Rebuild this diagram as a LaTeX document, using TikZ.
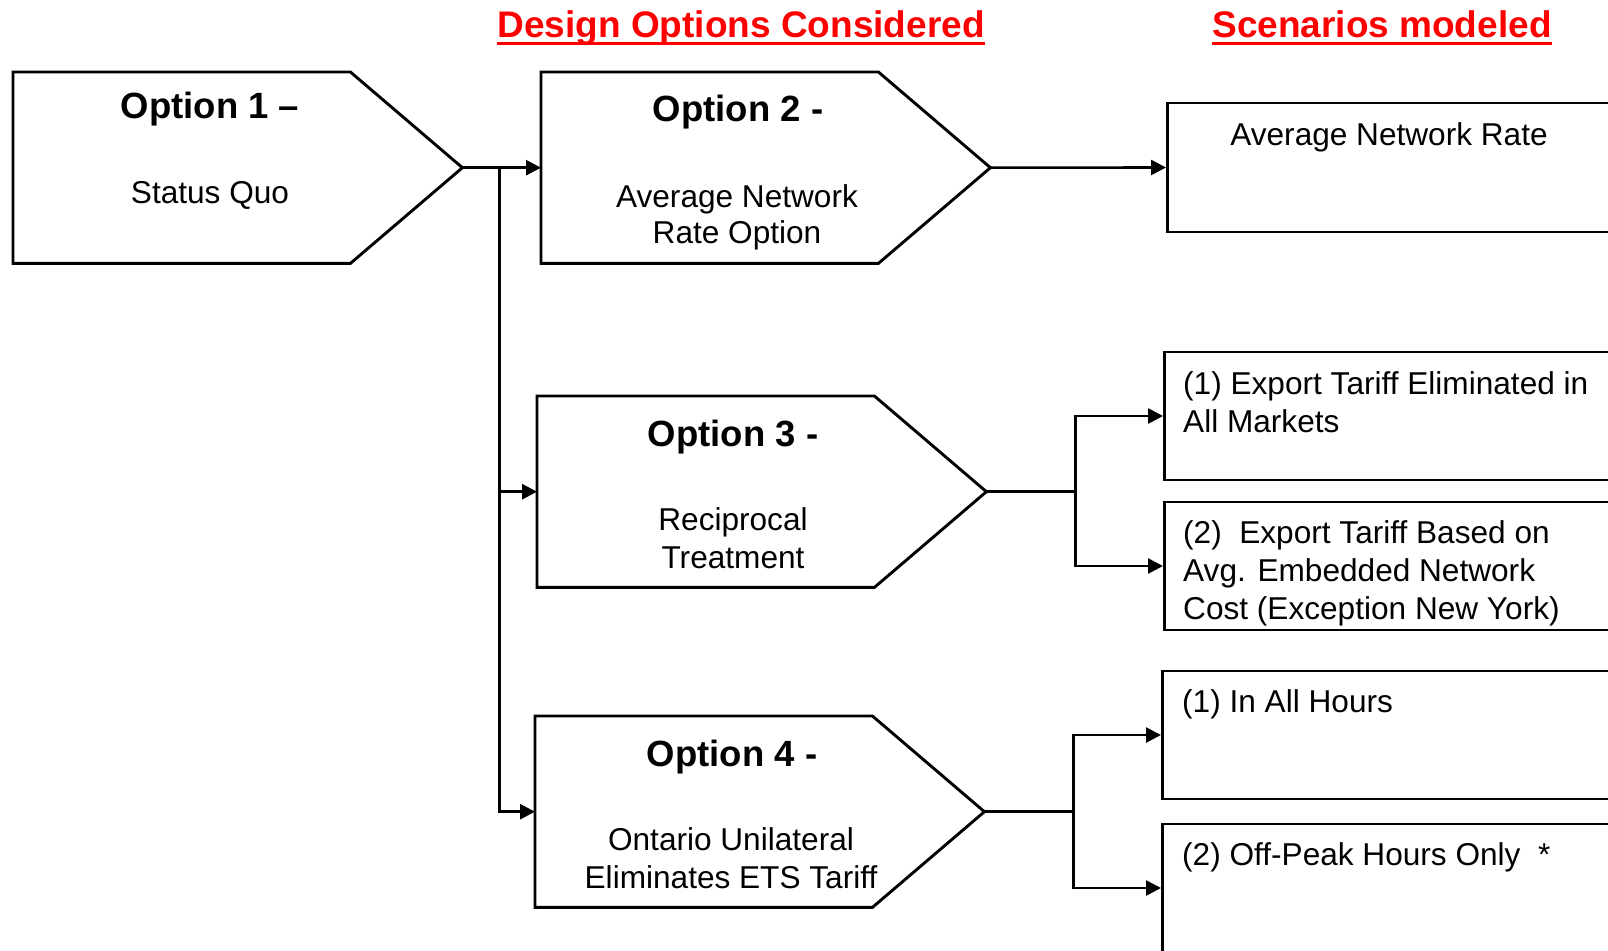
\documentclass[tikz,border=0pt]{standalone}
\usepackage{fontspec}
\setmainfont{Liberation Sans}
\usetikzlibrary{arrows.meta}
\newcommand\optoutline[1]{\draw[optline] (#1.north west) -- ([xshift=-112pt]#1.north east) -- (#1.east) -- ([xshift=-112pt]#1.south east) -- (#1.south west) -- cycle;}
\begin{document}
\begin{tikzpicture}[x=1pt,y=-1pt,
  optframe/.style={draw=none, inner sep=0pt, minimum width=449pt, minimum height=191pt, anchor=north west},
  optline/.style={draw=black, line width=2.9pt, fill=white, line join=miter},
  scenbox/.style={draw=black, line width=2.9pt, minimum width=520pt, minimum height=128pt, anchor=west, inner sep=0pt},
  conn/.style={line width=2.6pt},
  arr/.style={conn, -{Triangle[length=15pt,width=15pt]}},
  title/.style={font=\fontsize{36.5}{40}\selectfont\bfseries, anchor=base, inner sep=0pt},
  body/.style={font=\fontsize{31.6}{36}\selectfont, anchor=base, inner sep=0pt},
  bodyl/.style={body, anchor=base west},
  hdr/.style={font=\fontsize{37}{40}\selectfont\bfseries, text=red, anchor=base, inner sep=0pt},
  uline/.style={draw=red, line width=3.5pt}
]
\path[use as bounding box] (0,0) rectangle (1608,950);
\clip (0,0) rectangle (1608,950);

% headers
\node[hdr] (h1) at (741,37.5) {Design Options Considered};
\draw[uline] ([yshift=-6pt]h1.base west) -- ([yshift=-6pt]h1.base east);
\node[hdr] (h2) at (1382,37.5) {Scenarios modeled};
\draw[uline] ([yshift=-6pt]h2.base west) -- ([yshift=-6pt]h2.base east);

% option shapes
\node[optframe] (o1) at (13,72) {};
\optoutline{o1}
\node[optframe] (o2) at (541,72) {};
\optoutline{o2}
\node[optframe] (o3) at (537,396) {};
\optoutline{o3}
\node[optframe] (o4) at (535,716) {};
\optoutline{o4}

% option texts
\node[title] (o1t) at (210,118) {Option 1 –};
\node[body] (o1b) at (210,203) {Status Quo};
\node[title] (o2t) at (738,121) {Option 2 -};
\node[body] (o2b) at (737,207) {Average Network};
\node[body] (o2c) at (737,243) {Rate Option};
\node[title] (o3t) at (733,446) {Option 3 -};
\node[body] (o3b) at (733,530) {Reciprocal};
\node[body] (o3c) at (733,568) {Treatment};
\node[title] (o4t) at (732,766) {Option 4 -};
\node[body] (o4b) at (731,850) {Ontario Unilateral};
\node[body] (o4c) at (731,888) {Eliminates ETS Tariff};

% scenario boxes
\node[scenbox, minimum height=129pt] (s1) at (1166,167.5) {};
\node[body] (s1t) at (1389,145) {Average Network Rate};
\node[scenbox] (s2) at (1163,416) {};
\node[bodyl] (s2a) at (1183,394) {(1) Export Tariff Eliminated in};
\node[bodyl] (s2b) at (1183,432) {All Markets};
\node[scenbox] (s3) at (1163,566) {};
\node[bodyl] (s3a) at (1183,543) {(2)~~Export Tariff Based on};
\node[bodyl] (s3b) at (1183,581) {Avg. Embedded Network};
\node[bodyl] (s3c) at (1183,619) {Cost (Exception New York)};
\node[scenbox] (s4) at (1161,735) {};
\node[bodyl] (s4a) at (1182,712) {(1) In All Hours};
\node[scenbox] (s5) at (1161,888) {};
\node[bodyl] (s5a) at (1182,865) {(2) Off-Peak Hours Only~~*};

% connectors
\coordinate (j1) at ([xshift=37pt]o1.east);
\draw[arr] (o1.east) -- (o2.west);
\draw[arr, line width=3pt] (j1) |- (o3.west);
\draw[arr] (j1) |- (o4.west);
\draw[arr] (o2.east) -- (s1.west);
\coordinate (j3) at ([xshift=89pt]o3.east);
\draw[conn] (o3.east) -- (j3);
\draw[arr] (j3) |- (s2.west);
\draw[arr] (j3) |- (s3.west);
\coordinate (j4) at ([xshift=89pt]o4.east);
\draw[conn] (o4.east) -- (j4);
\draw[arr] (j4) |- (s4.west);
\draw[arr] (j4) |- (s5.west);
\end{tikzpicture}
\end{document}
